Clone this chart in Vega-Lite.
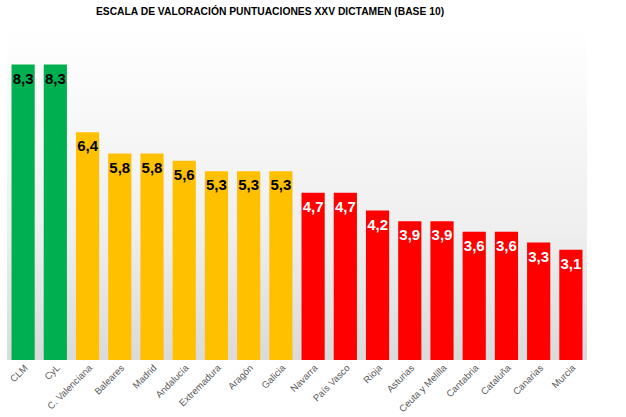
{
  "$schema": "https://vega.github.io/schema/vega-lite/v6.json",
  "width": 580,
  "height": 331,
  "autosize": {"type": "none"},
  "padding": {"left": 7, "top": 29, "right": 39, "bottom": 57},
  "background": "#ffffff",
  "title": {
    "text": "ESCALA DE VALORACIÓN PUNTUACIONES XXV DICTAMEN (BASE 10)",
    "font": "Liberation Sans, Arial",
    "fontSize": 10.3,
    "fontWeight": "bold",
    "color": "#000000",
    "anchor": "middle",
    "dx": -27,
    "offset": 12
  },
  "config": {
    "locale": {"number": {"decimal": ",", "thousands": ".", "grouping": [3], "currency": ["", " €"]}},
    "view": {
      "stroke": null,
      "fill": {"gradient": "linear", "x1": 0, "y1": 0, "x2": 0, "y2": 1,
        "stops": [{"offset": 0, "color": "#ffffff"}, {"offset": 0.6, "color": "#efefef"}, {"offset": 1, "color": "#dadada"}]}
    }
  },
  "data": {
    "values": [
      {"region": "CLM", "score": 8.3, "grupo": "alto"},
      {"region": "CyL", "score": 8.3, "grupo": "alto"},
      {"region": "C. Valenciana", "score": 6.4, "grupo": "medio"},
      {"region": "Baleares", "score": 5.8, "grupo": "medio"},
      {"region": "Madrid", "score": 5.8, "grupo": "medio"},
      {"region": "Andalucía", "score": 5.6, "grupo": "medio"},
      {"region": "Extremadura", "score": 5.3, "grupo": "medio"},
      {"region": "Aragón", "score": 5.3, "grupo": "medio"},
      {"region": "Galicia", "score": 5.3, "grupo": "medio"},
      {"region": "Navarra", "score": 4.7, "grupo": "bajo"},
      {"region": "País Vasco", "score": 4.7, "grupo": "bajo"},
      {"region": "Rioja", "score": 4.2, "grupo": "bajo"},
      {"region": "Asturias", "score": 3.9, "grupo": "bajo"},
      {"region": "Ceuta y Melilla", "score": 3.9, "grupo": "bajo"},
      {"region": "Cantabria", "score": 3.6, "grupo": "bajo"},
      {"region": "Cataluña", "score": 3.6, "grupo": "bajo"},
      {"region": "Canarias", "score": 3.3, "grupo": "bajo"},
      {"region": "Murcia", "score": 3.1, "grupo": "bajo"}
    ]
  },
  "encoding": {
    "x": {
      "field": "region", "type": "nominal", "sort": null,
      "scale": {"paddingInner": 0.28, "paddingOuter": 0.14},
      "axis": {
        "title": null, "domain": false, "ticks": false,
        "labelAngle": -45, "labelAlign": "right", "labelBaseline": "middle",
        "labelPadding": 6, "labelOffset": 3, "labelFont": "Liberation Sans, Arial", "labelFontSize": 9.5,
        "labelColor": "#595959"
      }
    },
    "y": {
      "field": "score", "type": "quantitative",
      "scale": {"domain": [0, 9.3], "nice": false},
      "axis": null
    }
  },
  "layer": [
    {
      "mark": {"type": "bar"},
      "encoding": {
        "color": {
          "field": "grupo", "type": "nominal", "legend": null,
          "scale": {"domain": ["alto", "medio", "bajo"], "range": ["#00B050", "#FFC000", "#FF0000"]}
        }
      }
    },
    {
      "mark": {"type": "text", "baseline": "middle", "dy": 14, "font": "Liberation Sans, Arial", "fontSize": 15, "fontWeight": "bold"},
      "encoding": {
        "text": {"field": "score", "type": "quantitative", "format": ".1f"},
        "color": {
          "condition": {"test": "datum.grupo === 'bajo'", "value": "#ffffff"},
          "value": "#000000"
        }
      }
    }
  ]
}
